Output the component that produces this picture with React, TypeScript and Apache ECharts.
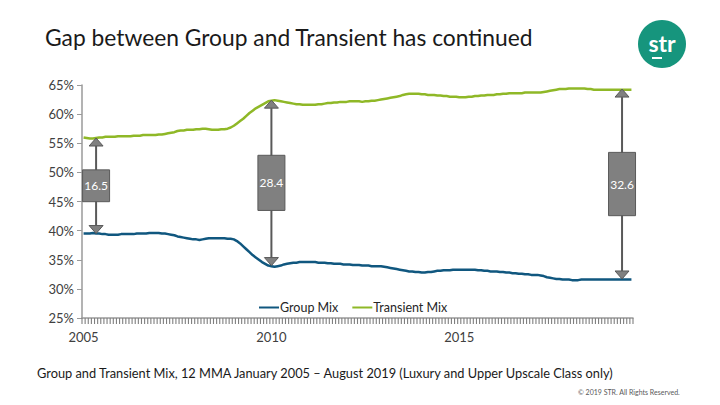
import React, { useEffect, useRef } from "react";
import * as echarts from "echarts";

// Monthly categories Jan 2005 – Aug 2019
const startYear = 2005;
const endYear = 2019;
const endMonth = 8;
const months: string[] = [];
for (let y = startYear; y <= endYear; y++) {
  for (let m = 1; m <= 12; m++) {
    if (y === endYear && m > endMonth) break;
    months.push(`${y}-${String(m).padStart(2, "0")}`);
  }
}

const transientMix: number[] = [
  56.0, 55.9, 55.8, 55.8, 55.9, 56.0, 56.0, 56.1, 56.1, 56.1, 56.1, 56.2,
  56.2, 56.2, 56.2, 56.2, 56.3, 56.3, 56.3, 56.4, 56.4, 56.4, 56.4, 56.4,
  56.5, 56.5, 56.6, 56.7, 56.8, 56.9, 57.1, 57.2, 57.2, 57.3, 57.3, 57.3,
  57.4, 57.4, 57.5, 57.5, 57.4, 57.3, 57.3, 57.3, 57.4, 57.4, 57.5, 57.7,
  58.0, 58.4, 58.8, 59.2, 59.7, 60.2, 60.6, 61.0, 61.3, 61.6, 61.9, 62.2,
  62.3, 62.4, 62.3, 62.2, 62.1, 62.0, 61.9, 61.8, 61.7, 61.7, 61.6, 61.6,
  61.6, 61.6, 61.6, 61.7, 61.7, 61.8, 61.9, 61.9, 62.0, 62.0, 62.1, 62.1,
  62.1, 62.2, 62.2, 62.2, 62.2, 62.1, 62.2, 62.2, 62.3, 62.3, 62.4, 62.5,
  62.6, 62.7, 62.8, 62.9, 63.0, 63.1, 63.3, 63.4, 63.5, 63.5, 63.5, 63.5,
  63.4, 63.4, 63.3, 63.3, 63.3, 63.2, 63.2, 63.1, 63.1, 63.0, 63.0, 63.0,
  62.9, 62.9, 62.9, 63.0, 63.0, 63.1, 63.1, 63.2, 63.2, 63.3, 63.3, 63.3,
  63.4, 63.4, 63.5, 63.5, 63.6, 63.6, 63.6, 63.6, 63.6, 63.7, 63.7, 63.7,
  63.7, 63.7, 63.7, 63.8, 63.9, 64.0, 64.1, 64.2, 64.3, 64.3, 64.3, 64.4,
  64.4, 64.4, 64.4, 64.4, 64.4, 64.3, 64.3, 64.2, 64.2, 64.2, 64.2, 64.2,
  64.2, 64.2, 64.2, 64.2, 64.2, 64.2, 64.2, 64.2,
];

const groupMix: number[] = [
  39.5, 39.5, 39.5, 39.6, 39.5, 39.5, 39.4, 39.4, 39.3, 39.3, 39.3, 39.3,
  39.4, 39.4, 39.4, 39.4, 39.4, 39.5, 39.5, 39.5, 39.5, 39.6, 39.6, 39.6,
  39.6, 39.5, 39.5, 39.4, 39.3, 39.2, 39.0, 38.9, 38.8, 38.7, 38.6, 38.5,
  38.5, 38.4, 38.5, 38.6, 38.7, 38.7, 38.7, 38.7, 38.7, 38.7, 38.6, 38.6,
  38.5, 38.2, 37.8, 37.3, 36.8, 36.3, 35.8, 35.4, 35.0, 34.6, 34.3, 34.0,
  33.9, 33.8, 33.9, 34.0, 34.2, 34.3, 34.4, 34.5, 34.5, 34.6, 34.6, 34.6,
  34.6, 34.6, 34.6, 34.5, 34.5, 34.5, 34.4, 34.4, 34.3, 34.3, 34.3, 34.2,
  34.2, 34.2, 34.1, 34.1, 34.1, 34.0, 34.0, 34.0, 33.9, 33.9, 33.9, 33.9,
  33.8, 33.7, 33.6, 33.5, 33.4, 33.3, 33.2, 33.1, 33.0, 33.0, 32.9, 32.9,
  32.8, 32.8, 32.9, 32.9, 33.0, 33.1, 33.1, 33.2, 33.2, 33.2, 33.3, 33.3,
  33.3, 33.3, 33.3, 33.3, 33.3, 33.3, 33.2, 33.2, 33.1, 33.1, 33.0, 33.0,
  33.0, 32.9, 32.9, 32.8, 32.8, 32.7, 32.7, 32.6, 32.6, 32.5, 32.5, 32.4,
  32.4, 32.4, 32.3, 32.2, 32.0, 31.9, 31.8, 31.7, 31.7, 31.6, 31.6, 31.6,
  31.5, 31.5, 31.5, 31.6, 31.6, 31.6, 31.6, 31.6, 31.6, 31.6, 31.6, 31.6,
  31.6, 31.6, 31.6, 31.6, 31.6, 31.6, 31.6, 31.6,
];

// Gap annotations
const annIndex: number[] = [4, 60, 172];
const annTop: number[] = [55.9, 62.4, 64.3];
const annBottom: number[] = [39.5, 34.0, 31.7];
const annLabel: string[] = ["16.5", "28.4", "32.6"];

const yTicks = { min: 25, max: 65, interval: 5 };

const FONT = "Lato, 'Noto Sans', sans-serif";

export default function App() {
  const ref = useRef<HTMLDivElement>(null);

  useEffect(() => {
    if (!ref.current) return;
    const chart = echarts.init(ref.current, null, { renderer: "svg" });

    const annData = annIndex.map((idx, i) => [idx, annTop[i], annBottom[i]]);
    const tickData = months.map((_, i) => [i, yTicks.min]);

    const option: any = {
      animation: false,
      backgroundColor: "#ffffff",
      textStyle: { fontFamily: FONT },
      grid: { left: 82, right: 87, top: 85, bottom: 87 },
      legend: {
        left: 254,
        top: 296,
        itemWidth: 20,
        itemHeight: 2,
        itemGap: 14,
        icon: "rect",
        textStyle: { fontSize: 12.5, color: "#262626", fontFamily: FONT, padding: [0, 0, 0, -4] },
        data: ["Group Mix", "Transient Mix"],
      },
      xAxis: {
        type: "category",
        data: months,
        boundaryGap: true,
        axisLine: { lineStyle: { color: "#9a9a9a", width: 1.5 } },
        axisTick: { show: false },
        axisLabel: {
          interval: (i: number) => i % 60 === 0,
          formatter: (v: string) => v.slice(0, 4),
          color: "#404040",
          fontSize: 13,
          margin: 12,
          fontFamily: FONT,
        },
        splitLine: { show: false },
      },
      yAxis: {
        type: "value",
        min: yTicks.min,
        max: yTicks.max,
        interval: yTicks.interval,
        axisLine: { show: true, lineStyle: { color: "#9a9a9a", width: 1.5 } },
        axisTick: { show: true, length: 5, lineStyle: { color: "#9a9a9a" } },
        axisLabel: { formatter: "{value}%", color: "#404040", fontSize: 13, margin: 8, fontFamily: FONT },
        splitLine: { show: false },
      },
      series: [
        {
          name: "monthTicks",
          type: "custom",
          data: tickData,
          clip: false,
          silent: true,
          z: 10,
          renderItem: (params: any, api: any) => {
            const idx = api.value(0);
            const c = api.coord([idx, api.value(1)]);
            const w = api.size([1, 0])[0];
            const xs = [c[0] - w / 2];
            if (params.dataIndex === months.length - 1) xs.push(c[0] + w / 2);
            return {
              type: "group",
              children: xs.map((x) => ({
                type: "line",
                shape: { x1: x, y1: c[1], x2: x, y2: c[1] + 6 },
                style: { stroke: "#7f7f7f", lineWidth: 1.1 },
              })),
            };
          },
        },
        {
          name: "Group Mix",
          type: "line",
          data: groupMix,
          symbol: "none",
          lineStyle: { color: "#10577f", width: 2.5 },
          itemStyle: { color: "#10577f" },
        },
        {
          name: "Transient Mix",
          type: "line",
          data: transientMix,
          symbol: "none",
          lineStyle: { color: "#8fb827", width: 2.5 },
          itemStyle: { color: "#8fb827" },
        },
        {
          name: "gap",
          type: "custom",
          data: annData,
          z: 5,
          renderItem: (params: any, api: any) => {
            const idx = api.value(0);
            const top = api.value(1);
            const bottom = api.value(2);
            const pTop = api.coord([idx, top]);
            const pBot = api.coord([idx, bottom]);
            const mid = (top + bottom) / 2;
            const half = (top - bottom) / 6;
            const bTop = api.coord([idx, mid + half]);
            const bBot = api.coord([idx, mid - half]);
            const x = pTop[0];
            const hw = 7;
            const hh = 8;
            const bw = 27;
            return {
              type: "group",
              children: [
                {
                  type: "line",
                  shape: { x1: x, y1: pTop[1] + hh, x2: x, y2: pBot[1] - hh },
                  style: { stroke: "#595959", lineWidth: 2 },
                },
                {
                  type: "polygon",
                  shape: { points: [[x, pTop[1]], [x - hw, pTop[1] + hh], [x + hw, pTop[1] + hh]] },
                  style: { fill: "#808080", stroke: "#595959", lineWidth: 1 },
                },
                {
                  type: "polygon",
                  shape: { points: [[x, pBot[1]], [x - hw, pBot[1] - hh], [x + hw, pBot[1] - hh]] },
                  style: { fill: "#808080", stroke: "#595959", lineWidth: 1 },
                },
                {
                  type: "rect",
                  shape: { x: x - bw / 2, y: bTop[1], width: bw, height: bBot[1] - bTop[1] },
                  style: { fill: "#808080", stroke: "#595959", lineWidth: 1 },
                },
                {
                  type: "text",
                  x: x,
                  y: (bTop[1] + bBot[1]) / 2,
                  style: {
                    text: annLabel[params.dataIndex],
                    fill: "#ffffff",
                    fontSize: 12,
                    fontFamily: FONT,
                    align: "center",
                    verticalAlign: "middle",
                  },
                },
              ],
            };
          },
        },
      ],
      graphic: [
        {
          type: "text",
          left: 45,
          top: 25,
          style: {
            text: "Gap between Group and Transient has continued",
            fontSize: 22.8,
            fontFamily: FONT,
            fill: "#1a1a1a",
          },
        },
        {
          type: "circle",
          shape: { cx: 662, cy: 44, r: 24 },
          style: { fill: "#16957d" },
        },
        {
          type: "text",
          x: 662,
          y: 43,
          style: {
            text: "str",
            fontSize: 23,
            fontWeight: "bold",
            fontFamily: FONT,
            fill: "#ffffff",
            align: "center",
            verticalAlign: "middle",
          },
        },
        {
          type: "line",
          shape: { x1: 652, y1: 58, x2: 662, y2: 58 },
          style: { stroke: "#ffffff", lineWidth: 2 },
        },
        {
          type: "text",
          left: 37,
          top: 366,
          style: {
            text: "Group and Transient Mix, 12 MMA January 2005 \u2013 August 2019 (Luxury and Upper Upscale Class only)",
            fontSize: 12.8,
            fontFamily: FONT,
            fill: "#1a1a1a",
          },
        },
        {
          type: "text",
          left: 578,
          top: 388,
          style: {
            text: "\u00a9 2019 STR. All Rights Reserved.",
            fontSize: 7,
            fontFamily: FONT,
            fill: "#595959",
          },
        },
      ],
    };

    chart.setOption(option);
    return () => chart.dispose();
  }, []);

  return (
    <div
      ref={ref}
      style={{ position: "fixed", left: 0, top: 0, width: 720, height: 405 }}
    />
  );
}
